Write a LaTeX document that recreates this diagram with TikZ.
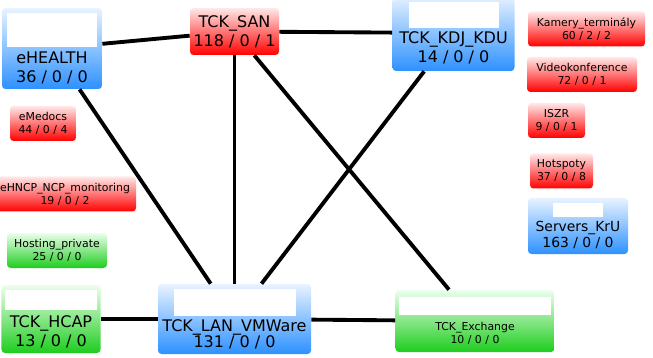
\documentclass[tikz,border=0pt]{standalone}
\usepackage{fontspec}
\setmainfont{DejaVu Sans}
\usetikzlibrary{shapes,positioning}

\definecolor{blueend}{RGB}{45,145,255}
\definecolor{bluetop}{RGB}{232,243,255}
\definecolor{redend}{RGB}{255,0,0}
\definecolor{redtop}{RGB}{255,232,232}
\definecolor{greenend}{RGB}{30,205,30}
\definecolor{greentop}{RGB}{236,255,236}

\newlength{\pxu}
\setlength{\pxu}{0.02cm}
\newcommand{\blankicon}[2]{\textcolor{white}{\rule{#1\pxu}{#2\pxu}}}

\tikzset{
    hostbox/.style={rounded corners=2pt, align=center, inner sep=2pt, text=black},
    bighost/.style={hostbox, font=\fontsize{9.1}{10.8}\selectfont},
    midhost/.style={hostbox, font=\fontsize{7.9}{9.1}\selectfont},
    smallhost/.style={hostbox, font=\fontsize{6.2}{7.4}\selectfont},
    stateblue/.style={top color=bluetop, bottom color=blueend},
    statered/.style={top color=redtop, bottom color=redend},
    stategreen/.style={top color=greentop, bottom color=greenend},
    link/.style={line width=2.2pt, black}
}

\begin{document}
\begin{tikzpicture}[x=0.02cm, y=-0.02cm]
    \useasboundingbox (0,0) rectangle (653,358);

    % Main hosts
    \node[bighost, stateblue, minimum width=100\pxu, minimum height=81\pxu] (ehealth) at (52,48.5)
        {\blankicon{90}{34}\\[-2\pxu]eHEALTH\\36 / 0 / 0};
    \node[bighost, statered, minimum width=89\pxu, minimum height=47\pxu] (san) at (234.5,31.5)
        {TCK\_SAN\\118 / 0 / 1};
    \node[bighost, stateblue, minimum width=122\pxu, minimum height=76\pxu] (kdj) at (453.5,33)
        {\blankicon{90}{26}\\[-3\pxu]TCK\_KDJ\_KDU\\14 / 0 / 0};
    \node[midhost, stateblue, minimum width=100\pxu, minimum height=56\pxu] (servers) at (578,226)
        {\blankicon{50}{14}\\[-1\pxu]Servers\_KrU\\163 / 0 / 0};
    \node[bighost, stategreen, minimum width=98\pxu, minimum height=68\pxu] (hcap) at (51,319)
        {\blankicon{92}{20}\\[-2\pxu]TCK\_HCAP\\13 / 0 / 0};
    \node[bighost, stateblue, minimum width=153\pxu, minimum height=70\pxu] (lan) at (234.5,319)
        {\blankicon{122}{27}\\[-4\pxu]TCK\_LAN\_VMWare\\[-3\pxu]131 / 0 / 0};
    \node[smallhost, stategreen, minimum width=156\pxu, minimum height=62\pxu] (exchange) at (475,321)
        {\blankicon{152}{18}\\[2\pxu]TCK\_Exchange\\10 / 0 / 0};

    % Small status boxes
    \foreach \n/\x/\y/\w/\st/\name/\nums in {
        kamery/586.5/29/117/statered/{Kamery\_terminály}/{60 / 2 / 2},
        video/582/74.5/110/statered/{Videokonference}/{72 / 0 / 1},
        iszr/556.5/120.5/57/statered/{ISZR}/{9 / 0 / 1},
        hotspoty/561.5/171/63/statered/{Hotspoty}/{37 / 0 / 8},
        emedocs/43/123.5/66/statered/{eMedocs}/{44 / 0 / 4},
        ehncp/65/194/142/statered/{eHNCP\_NCP\_monitoring}/{19 / 0 / 2},
        hosting/57/250.5/100/stategreen/{Hosting\_private}/{25 / 0 / 0}
    } {
        \node[smallhost, \st, minimum width=\w\pxu, minimum height=35\pxu] (\n) at (\x,\y) {\name\\\nums};
    }

    % Links
    \draw[link] (ehealth) -- (san);
    \draw[link] (san) -- (kdj);
    \draw[link] (ehealth) -- (lan);
    \draw[link] (san) -- (lan);
    \draw[link] (san) -- (exchange);
    \draw[link] (kdj) -- (lan);
    \draw[link] (hcap) -- (lan);
    \draw[link] (lan) -- (exchange);
\end{tikzpicture}
\end{document}
